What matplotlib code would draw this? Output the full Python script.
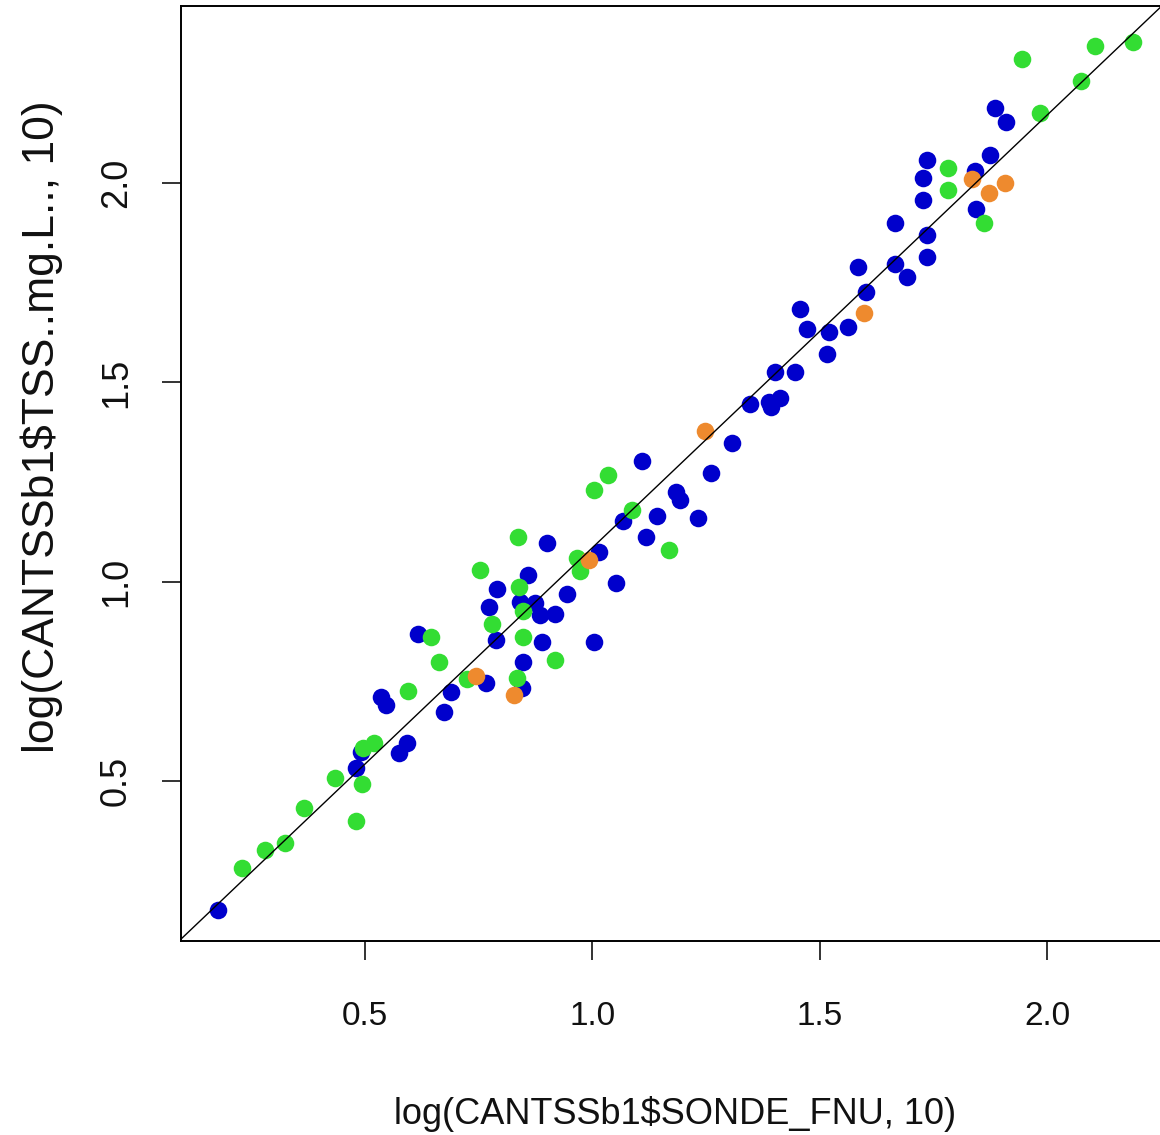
import matplotlib
matplotlib.use("Agg")
import matplotlib.pyplot as plt

plt.rcParams['font.family'] = ['Liberation Sans', 'DejaVu Sans']

# log10 sonde turbidity (x) vs log10 TSS (y), grouped by colour
blue_x = [0.177, 0.493, 0.480, 0.575, 0.593, 0.535, 0.548, 0.618, 0.690, 0.674,
          0.766, 0.845, 0.774, 0.788, 0.790, 0.848, 0.859, 0.842, 0.874, 0.885,
          0.918, 0.889, 0.944, 0.900, 1.003, 1.014, 1.053, 1.068, 1.118, 1.109,
          1.142, 1.183, 1.193, 1.233, 1.262, 1.307, 1.347, 1.389, 1.413, 1.392,
          1.402, 1.446, 1.457, 1.471, 1.515, 1.521, 1.562, 1.585, 1.602, 1.666,
          1.666, 1.691, 1.736, 1.736, 1.726, 1.726, 1.736, 1.842, 1.844, 1.875,
          1.884, 1.910]
blue_y = [0.176, 0.572, 0.532, 0.571, 0.595, 0.711, 0.691, 0.868, 0.724, 0.674,
          0.747, 0.733, 0.936, 0.853, 0.981, 0.799, 1.017, 0.950, 0.946, 0.917,
          0.918, 0.849, 0.969, 1.098, 0.849, 1.074, 0.997, 1.153, 1.111, 1.303,
          1.166, 1.226, 1.205, 1.161, 1.273, 1.347, 1.446, 1.451, 1.462, 1.439,
          1.527, 1.527, 1.683, 1.633, 1.571, 1.627, 1.639, 1.790, 1.727, 1.901,
          1.797, 1.765, 1.814, 1.869, 1.957, 2.012, 2.058, 2.031, 1.934, 2.070,
          2.187, 2.154]

green_x = [0.231, 0.280, 0.326, 0.366, 0.435, 0.480, 0.495, 0.496, 0.520, 0.595,
           0.646, 0.664, 0.724, 0.753, 0.779, 0.838, 0.839, 0.848, 0.849, 0.834,
           0.918, 0.966, 0.974, 1.003, 1.034, 1.088, 1.168, 1.781, 1.781, 1.860,
           1.983, 1.944, 2.073, 2.104, 2.189]
green_y = [0.283, 0.327, 0.344, 0.432, 0.507, 0.400, 0.494, 0.584, 0.595, 0.725,
           0.861, 0.799, 0.755, 1.029, 0.893, 1.112, 0.988, 0.926, 0.862, 0.758,
           0.805, 1.059, 1.027, 1.229, 1.267, 1.180, 1.079, 2.037, 1.982, 1.899,
           2.176, 2.310, 2.256, 2.343, 2.354]

orange_x = [0.744, 0.828, 0.994, 1.247, 1.597, 1.834, 1.871, 1.906]
orange_y = [0.763, 0.716, 1.054, 1.378, 1.675, 2.009, 1.976, 2.001]

# fitted line drawn over the points
fit_intercept = -0.001
fit_slope = 1.086

fig = plt.figure(figsize=(11.6, 11.35), dpi=100)
ax = fig.add_axes([181 / 1160, (1135 - 941) / 1135, (1170 - 181) / 1160, 935 / 1135])

ax.scatter(blue_x, blue_y, s=160, c='#0000CC', linewidths=0, zorder=3)
ax.scatter(green_x, green_y, s=160, c='#33DD33', linewidths=0, zorder=3)
ax.scatter(orange_x, orange_y, s=160, c='#EE8A2E', linewidths=0, zorder=3)

ax.axline((0, fit_intercept), slope=fit_slope, color='black', lw=1.0, zorder=4)

ax.set_xlim(0.0965, 2.2695)
ax.set_ylim(0.099, 2.444)
ax.set_xticks([0.5, 1.0, 1.5, 2.0])
ax.set_yticks([0.5, 1.0, 1.5, 2.0])

for s in ax.spines.values():
    s.set_linewidth(1.4)
    s.set_color('black')

ax.tick_params(axis='both', direction='out', length=14, width=1.2, colors='#111111')
ax.tick_params(axis='x', pad=29, labelsize=24)
ax.tick_params(axis='y', pad=20, labelsize=26, labelrotation=90)
for lbl in ax.get_yticklabels():
    lbl.set_va('center')

ax.set_xlabel('log(CANTSSb1$SONDE_FNU, 10)', fontsize=26, color='#111111')
ax.set_ylabel('log(CANTSSb1$TSS..mg.L.., 10)', fontsize=32, color='#111111')
ax.xaxis.set_label_coords(0.5, -0.185)
ax.xaxis.label.set_va('center')
ax.yaxis.set_label_coords(-0.141, 0.55)
ax.yaxis.label.set_va('center')

fig.savefig('out.png', dpi=100)
